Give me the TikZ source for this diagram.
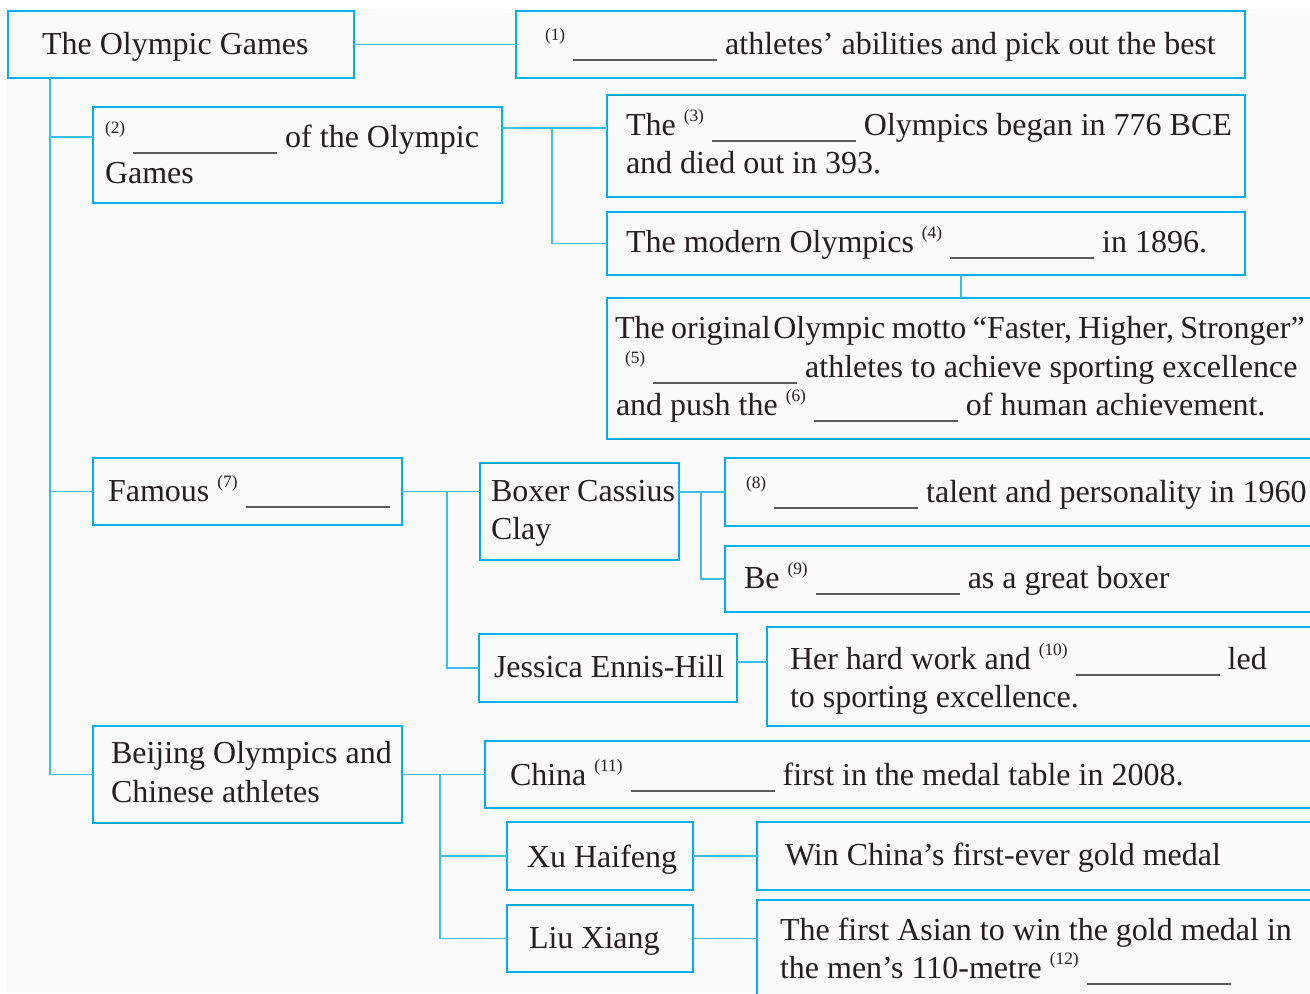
\documentclass[tikz,border=0pt]{standalone}
\usepackage{fontspec}
\setmainfont{Liberation Serif}
\definecolor{boxblue}{HTML}{00AEEF}
\definecolor{connblue}{HTML}{3DBCEE}
\definecolor{bggray}{HTML}{FAFAFA}
\definecolor{txt}{HTML}{231F20}
\definecolor{blankgray}{HTML}{5A5A5A}
\newcommand\qn[1]{\raisebox{10.5pt}{\fontsize{13}{13}\selectfont(#1)}}
\newcommand\blk{{\color{blankgray}\rule[-4.9pt]{108pt}{0.9pt}}}
\newcommand\bx[5]{\node[box,anchor=north west,minimum width={(#4-#2)*0.75pt},minimum height={(#5-#3)*0.75pt}] (#1) at (#2,#3) {};}
\tikzset{
  box/.style={draw=boxblue,line width=1.8pt,fill=bggray,inner sep=0pt,outer sep=0pt,rectangle},
  conn/.style={draw=connblue,line width=1.1pt},
  tx/.style={anchor=base west,inner sep=0pt,outer sep=0pt,text=txt,font=\fontsize{24}{28.5}\selectfont}
}
\begin{document}
\begin{tikzpicture}[x=0.75pt,y=-0.75pt]
\useasboundingbox (0,0) rectangle (1310,993);
\clip (0,0) rectangle (1310,993);
\fill[white] (0,0) rectangle (1310,993);
\fill[bggray] (6,9) rectangle (1310,993);
% junction coordinates
\coordinate (tr) at (50,0);
\coordinate (j2) at (552,128);
\coordinate (j4) at (961,0);
\coordinate (j7) at (447,0);
\coordinate (jB) at (701,0);
\coordinate (jb) at (440,0);
% boxes
\bx{b0}{8}{11}{354}{78}
\bx{b1}{516}{11}{1245}{78}
\bx{b2}{93}{107}{502}{203}
\bx{b3}{607}{95}{1245}{197}
\bx{b4}{607}{212}{1245}{275}
\bx{b5}{607}{298}{1330}{439}
\bx{b7}{93}{458}{402}{525}
\bx{bBoxer}{480}{463}{679}{560}
\bx{bJess}{479}{634}{737}{702}
\bx{b8}{725}{458}{1330}{526}
\bx{b9}{725}{546}{1330}{612}
\bx{b10}{767}{627}{1330}{726}
\bx{bBei}{93}{726}{402}{823}
\bx{b11}{485}{741}{1330}{808}
\bx{bXu}{507}{822}{693}{890}
\bx{bLiu}{507}{905}{693}{972}
\bx{bWin}{757}{822}{1330}{890}
\bx{b12}{757}{900}{1330}{1020}
% connectors
\draw[conn] (b0.east) -- (b1.west);
\draw[conn] (b0.south -| tr) |- (bBei.west);
\draw[conn] (tr |- 0,137) -- (b2.west |- 0,137);
\draw[conn] (tr |- b7.west) -- (b7.west);
\draw[conn] (b2.east |- j2) -- (b3.west |- j2);
\draw[conn] (j2) |- (b4.west);
\draw[conn] (b4.south -| j4) -- (b5.north -| j4);
\draw[conn] (b7.east) -- (bBoxer.west |- b7.east);
\draw[conn] (j7 |- b7.east) |- (bJess.west);
\draw[conn] (bBoxer.east |- b8.west) -- (b8.west);
\draw[conn] (jB |- b8.west) |- (b9.west);
\draw[conn] (bJess.east |- 0,662) -- (b10.west |- 0,662);
\draw[conn] (bBei.east) -- (b11.west);
\draw[conn] (jb |- bBei.east) |- (bLiu.west);
\draw[conn] (jb |- bXu.west) -- (bXu.west);
\draw[conn] (bXu.east) -- (bWin.west);
\draw[conn] (bLiu.east) -- (b12.west |- bLiu.east);
% texts
\node[tx] (t0) at (42,54) {The Olympic Games};
\node[tx] (t1) at (545,54) {\qn{1} \blk{} athletes’ abilities and pick out the best};
\node[tx] (t2a) at (105,147) {\qn{2} \blk{} of the Olympic};
\node[tx] (t2b) at (105,183) {Games};
\node[tx] (t3a) at (626,135) {The \qn{3} \blk{} Olympics began in 776 BCE};
\node[tx] (t3b) at (626,173) {and died out in 393.};
\node[tx] (t4) at (626,252) {The modern Olympics \qn{4} \blk{} in 1896.};
\node[tx] (t5a) at (615,338) {\spaceskip=0.2em The original\hspace{2pt}Olympic motto “Faster, Higher, Stronger”};
\node[tx] (t5b) at (625,377) {\qn{5} \blk{} athletes to achieve sporting excellence};
\node[tx] (t5c) at (616,415) {and push the \qn{6} \blk{} of human achievement.};
\node[tx] (t7) at (108,501) {Famous \qn{7} \blk};
\node[tx] (tBa) at (491,501) {Boxer Cassius};
\node[tx] (tBb) at (491,539) {Clay};
\node[tx] (tJ) at (494,677) {Jessica Ennis-Hill};
\node[tx] (t8) at (746,502) {\qn{8} \blk{} talent and personality in 1960};
\node[tx] (t9) at (744,588) {Be \qn{9} \blk{} as a great boxer};
\node[tx] (t10a) at (790,669) {Her hard work and \qn{10} \blk{} led};
\node[tx] (t10b) at (790,707) {to sporting excellence.};
\node[tx] (tBeia) at (111,763) {Beijing Olympics and};
\node[tx] (tBeib) at (111,802) {Chinese athletes};
\node[tx] (t11) at (510,785) {China \qn{11} \blk{} first in the medal table in 2008.};
\node[tx] (tXu) at (527,867) {Xu Haifeng};
\node[tx] (tLiu) at (529,948) {Liu Xiang};
\node[tx] (tWin) at (785,865) {Win China’s first-ever gold medal};
\node[tx] (t12a) at (780,940) {The first Asian to win the gold medal in};
\node[tx] (t12b) at (780,978) {the men’s 110-metre \qn{12} \blk};
\end{tikzpicture}
\end{document}
